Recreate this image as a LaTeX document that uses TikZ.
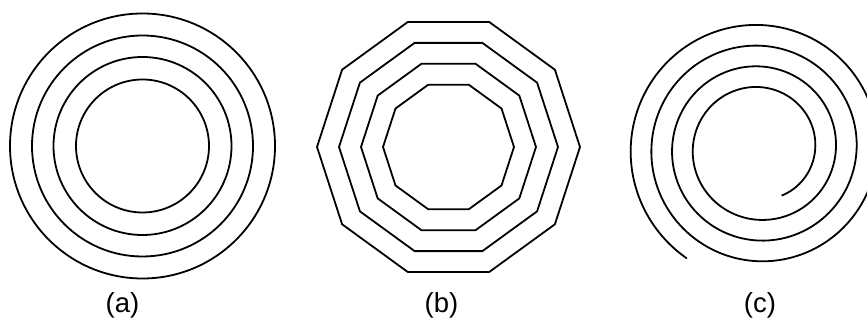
\documentclass[tikz,border=0pt]{standalone}
\usepackage{fontspec}
\setmainfont{Liberation Sans}
\begin{document}
\begin{tikzpicture}[x=1pt,y=1pt,
  curve/.style={line width=1.8pt, black},
  lab/.style={anchor=base, inner sep=0pt, font=\fontsize{27.5}{33}\selectfont}]
\useasboundingbox (0,0) rectangle (867,320);
\clip (0,0) rectangle (867,320);
% (a) concentric circles
\foreach \r in {132.5,110.5,89,66.5}
  \draw[curve] (142.5,174) circle[radius=\r];
% (b) concentric decagons
\foreach \r in {131.5,109.5,87.5,65.5}
  \draw[curve] plot[samples at={0,36,...,324}] ({448.5+\r*cos(\x)},{173+\r*sin(\x)}) -- cycle;
% (c) spiral
\draw[curve, line cap=round] plot[domain=-56.5:1324, samples=500, smooth]
  ({759.2+(128.5-0.0575*\x)*cos(180-\x)},{171.7+(128.5-0.0575*\x)*sin(180-\x)});
% labels
\node[lab] (la) at (122.5,7.5) {(a)};
\node[lab] (lb) at (441.5,7.5) {(b)};
\node[lab] (lc) at (760,7.5) {(c)};
\end{tikzpicture}
\end{document}
